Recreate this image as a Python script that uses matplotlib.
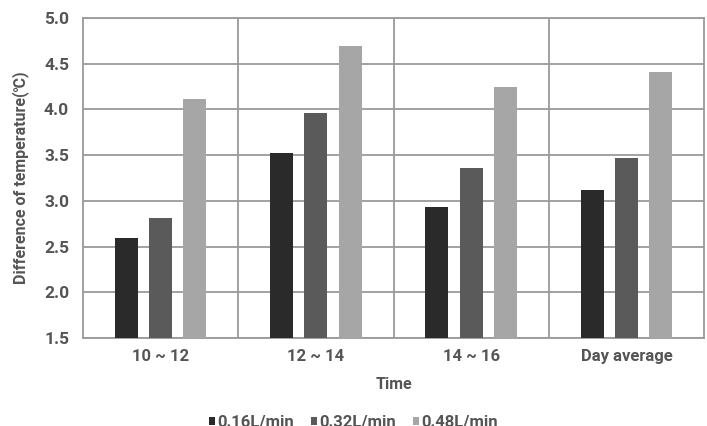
import matplotlib
matplotlib.use("Agg")
import matplotlib.pyplot as plt
import numpy as np

categories = ["10 ~ 12", "12 ~ 14", "14 ~ 16", "Day average"]
series_names = ["0.16L/min", "0.32L/min", "0.48L/min"]
s016 = [2.59, 3.52, 2.93, 3.12]
s032 = [2.81, 3.96, 3.36, 3.47]
s048 = [4.11, 4.69, 4.25, 4.41]
yticks = [1.5, 2.0, 2.5, 3.0, 3.5, 4.0, 4.5, 5.0]

colors = ["#2a2a2a", "#5a5a5a", "#a6a6a6"]
txt = "#555555"
grid = "#9a9a9a"
plt.rcParams['font.family'] = ['Roboto', 'DejaVu Sans']
plt.rcParams['font.weight'] = 'bold'

fig = plt.figure(figsize=(7.07, 4.26), dpi=100)
ax = fig.add_axes([0.1174, 0.2066, 0.8784, 0.7511])

x = np.arange(len(categories))
w = 0.148
off = 0.22
for i, vals in enumerate([s016, s032, s048]):
    ax.bar(x + (i - 1) * off, np.array(vals) - 1.5, bottom=1.5, width=w,
           color=colors[i], label=series_names[i], zorder=3)

ax.set_xlim(-0.5, 3.5)
ax.set_ylim(1.5, 5.0)
ax.set_yticks(yticks)
ax.set_yticklabels([f"{v:.1f}" for v in yticks])
ax.set_xticks(x)
ax.set_xticklabels(categories)
ax.set_xticks([0.5, 1.5, 2.5], minor=True)
ax.grid(axis='y', which='major', color=grid, linewidth=1.3, zorder=0)
ax.grid(axis='x', which='minor', color=grid, linewidth=1.3, zorder=0)
ax.tick_params(which='both', length=0)
ax.tick_params(axis='y', labelsize=12.5, labelcolor=txt, pad=10)
ax.tick_params(axis='x', labelsize=12, labelcolor=txt, pad=8)
for s in ax.spines.values():
    s.set_color(grid)
    s.set_linewidth(1.3)

ax.set_xlabel("Time", fontsize=11.5, color=txt, fontweight='bold', labelpad=9)
ax.set_ylabel("Difference of temperature(\u2103)", fontsize=11.5, color=txt,
              fontweight='bold', labelpad=11)

leg = fig.legend(loc='center', bbox_to_anchor=(0.5, 0.008), ncol=3, frameon=False,
                 fontsize=12, handlelength=0.35, handleheight=0.35, handletextpad=0.15,
                 columnspacing=1.0)
for t in leg.get_texts():
    t.set_color(txt)

fig.savefig("out.png", dpi=100)
